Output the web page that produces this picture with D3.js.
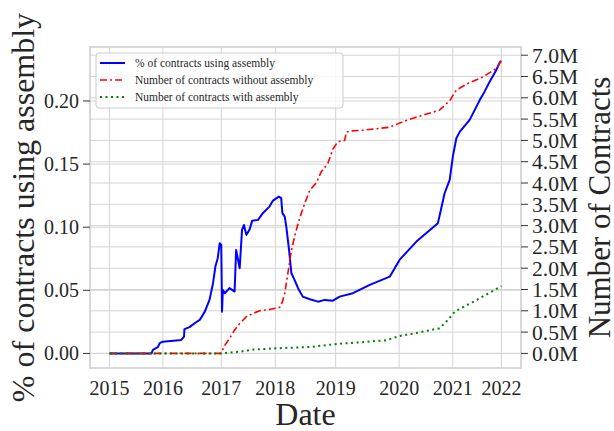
<!DOCTYPE html>
<html>
<head>
<meta charset="utf-8">
<script src="https://cdn.jsdelivr.net/npm/d3@7"></script>
<style>
  body { margin: 0; background: #fff; }
  text { font-family: "Liberation Serif", "DejaVu Serif", serif; fill: #262626; }
</style>
</head>
<body>
<svg width="614" height="431"></svg>
<script>
// x is a position along the sampled period (0 = first sample, 100 = last)
var yearTicks = [0, 13.6, 28.5, 42.3, 57.7, 73.9, 87.6, 100];
var yearLabels = ["2015", "2016", "2017", "2018", "2019", "2020", "2021", "2022"];

// share of contracts using assembly
var pctX = [0, 10.7, 11.05, 12.3, 12.8, 13.6, 18.3, 19.0, 19.1, 20.4, 21.7, 23.0, 24.3, 25.5, 26.4, 27.0, 27.6, 28.1, 28.5, 28.7, 28.9, 29.4, 30.6, 31.9, 32.3, 33.2, 33.8, 34.3, 34.9, 35.7, 36.4, 37.9, 39.1, 40.8, 41.7, 43.2, 43.8, 44.1, 44.7, 45.1, 45.8, 46.4, 47.2, 48.1, 49.3, 51.1, 53.2, 54.9, 57.0, 58.7, 62.1, 66.4, 71.5, 74.0, 78.3, 83.8, 85.5, 86.8, 87.6, 88.5, 89.4, 91.9, 94.5, 95.7, 97.0, 98.7, 99.7, 100];
var pctY = [0, 0, 0.0028, 0.0049, 0.0081, 0.0093, 0.0107, 0.0133, 0.0192, 0.0208, 0.0239, 0.0265, 0.0331, 0.0424, 0.0556, 0.0688, 0.0754, 0.0873, 0.0860, 0.0331, 0.0503, 0.0477, 0.0517, 0.0490, 0.0820, 0.0675, 0.0979, 0.1018, 0.0939, 0.0979, 0.1052, 0.1058, 0.1111, 0.1163, 0.1211, 0.1242, 0.1230, 0.1111, 0.1084, 0.1005, 0.0820, 0.0635, 0.0582, 0.0517, 0.0450, 0.0429, 0.0410, 0.0424, 0.0418, 0.0450, 0.0477, 0.0543, 0.0608, 0.0741, 0.0886, 0.1032, 0.1269, 0.1375, 0.1559, 0.1705, 0.1757, 0.1850, 0.2009, 0.2074, 0.2153, 0.2246, 0.2312, 0.2312];

// number of contracts without assembly (millions)
var withoutX = [0, 28.4, 29.4, 30.6, 31.9, 33.2, 34.9, 36.6, 38.3, 40.8, 43.4, 44.1, 44.7, 45.5, 46.4, 47.5, 48.5, 49.8, 51.1, 52.8, 54.0, 55.7, 57.0, 58.3, 60.0, 60.4, 61.3, 64.7, 71.5, 74.9, 77.4, 84.2, 86.8, 88.5, 91.1, 95.3, 98.7, 99.7, 100];
var withoutY = [0, 0, 0.19, 0.35, 0.55, 0.70, 0.86, 0.94, 1.00, 1.03, 1.08, 1.21, 1.41, 1.88, 2.42, 2.85, 3.17, 3.52, 3.83, 4.01, 4.26, 4.46, 4.80, 4.97, 5.00, 5.19, 5.22, 5.24, 5.31, 5.44, 5.52, 5.71, 5.93, 6.18, 6.32, 6.49, 6.69, 6.84, 6.85];

// number of contracts with assembly (millions)
var withX = [0, 28.4, 33.2, 36.6, 42.5, 51.1, 57.9, 63.8, 70.6, 74.0, 78.3, 84.2, 85.9, 88.1, 91.1, 93.6, 99.6, 100];
var withY = [0, 0, 0.04, 0.09, 0.12, 0.15, 0.22, 0.26, 0.31, 0.41, 0.48, 0.59, 0.74, 0.98, 1.13, 1.25, 1.56, 1.58];

var leftTicks = [0, 0.05, 0.10, 0.15, 0.20];
var rightTicks = [0, 0.5, 1, 1.5, 2, 2.5, 3, 3.5, 4, 4.5, 5, 5.5, 6, 6.5, 7];

var svg = d3.select("svg");
var L = 90, R = 521, T = 47, B = 368;

function pad(ext) { var d = ext[1] - ext[0]; return [ext[0] - 0.05 * d, ext[1] + 0.05 * d]; }

var x = d3.scaleLinear().domain(pad([0, 100])).range([L, R]);
var yL = d3.scaleLinear().domain(pad(d3.extent(pctY))).range([B, T]);
var yR = d3.scaleLinear().domain(pad([0, d3.max(withoutY.concat(withY))])).range([B, T]);

var grid = svg.append("g").attr("stroke", "#d4d4d4").attr("stroke-width", 1).attr("fill", "none");
grid.selectAll(".gx").data(yearTicks).enter().append("line")
	.attr("x1", d => x(d)).attr("x2", d => x(d)).attr("y1", T).attr("y2", B);
grid.selectAll(".gl").data(leftTicks).enter().append("line")
	.attr("x1", L).attr("x2", R).attr("y1", d => yL(d)).attr("y2", d => yL(d));
grid.selectAll(".gr").data(rightTicks).enter().append("line")
	.attr("x1", L).attr("x2", R).attr("y1", d => yR(d)).attr("y2", d => yR(d));

svg.append("clipPath").attr("id", "clip").append("rect")
	.attr("x", L).attr("y", T).attr("width", R - L).attr("height", B - T);
var plot = svg.append("g").attr("clip-path", "url(#clip)");

//lines
plot.append("path")
	.datum(d3.range(pctX.length))
	.attr("fill", "none").attr("stroke", "#0000ff").attr("stroke-width", 2)
	.attr("stroke-linejoin", "round")
	.attr("d", d3.line().x(i => x(pctX[i])).y(i => yL(pctY[i])));
plot.append("path")
	.datum(d3.range(withoutX.length))
	.attr("fill", "none").attr("stroke", "#ff0000").attr("stroke-width", 1.6)
	.attr("stroke-dasharray", "7,3,2,3")
	.attr("d", d3.line().x(i => x(withoutX[i])).y(i => yR(withoutY[i])));
plot.append("path")
	.datum(d3.range(withX.length))
	.attr("fill", "none").attr("stroke", "#008000").attr("stroke-width", 2)
	.attr("stroke-dasharray", "2,3.5")
	.attr("d", d3.line().x(i => x(withX[i])).y(i => yR(withY[i])));

// frame
svg.append("rect").attr("x", L).attr("y", T).attr("width", R - L).attr("height", B - T)
	.attr("fill", "none").attr("stroke", "#cccccc").attr("stroke-width", 1.5);

// left axis
var la = svg.append("g");
la.selectAll("line").data(leftTicks).enter().append("line")
	.attr("x1", L - 7).attr("x2", L).attr("y1", d => yL(d)).attr("y2", d => yL(d))
	.attr("stroke", "#333").attr("stroke-width", 1);
la.selectAll("text").data(leftTicks).enter().append("text")
	.attr("x", L - 11).attr("y", d => yL(d)).attr("dy", "0.35em")
	.attr("text-anchor", "end").attr("font-size", 20)
	.text(d => d3.format(".2f")(d));

// right axis
var ra = svg.append("g");
ra.selectAll("line").data(rightTicks).enter().append("line")
	.attr("x1", R).attr("x2", R + 7).attr("y1", d => yR(d)).attr("y2", d => yR(d))
	.attr("stroke", "#333").attr("stroke-width", 1);
ra.selectAll("text").data(rightTicks).enter().append("text")
	.attr("x", R + 11).attr("y", d => yR(d)).attr("dy", "0.35em")
	.attr("font-size", 21.5)
	.text(d => d3.format(".1f")(d) + "M");

// bottom axis labels
svg.append("g").selectAll("text").data(yearTicks).enter().append("text")
	.attr("x", d => x(d)).attr("y", 395)
	.attr("text-anchor", "middle").attr("font-size", 20)
	.text((d, i) => yearLabels[i]);

svg.append("text").attr("x", (L + R) / 2).attr("y", 425)
	.attr("text-anchor", "middle").attr("font-size", 32).text("Date");
svg.append("text").attr("transform", "translate(34," + (T + B) / 2 + ") rotate(-90)")
	.attr("text-anchor", "middle").attr("font-size", 32).text("% of contracts using assembly");
svg.append("text").attr("transform", "translate(610," + (T + B) / 2 + ") rotate(-90)")
	.attr("text-anchor", "middle").attr("font-size", 31).text("Number of Contracts");

// legend
var lg = svg.append("g");
lg.append("rect").attr("x", 96).attr("y", 53).attr("width", 247).attr("height", 55).attr("rx", 3)
	.attr("fill", "#fff").attr("fill-opacity", 0.8).attr("stroke", "#cccccc").attr("stroke-width", 1);
var items = [
	{ name: "% of contracts using assembly", color: "#0000ff", dash: null, w: 2 },
	{ name: "Number of contracts without assembly", color: "#ff0000", dash: "7,3,2,3", w: 1.6 },
	{ name: "Number of contracts with assembly", color: "#008000", dash: "2,3.5", w: 2 }
];
items.forEach(function(it, i) {
	var yy = 63 + i * 17;
	lg.append("line").attr("x1", 100).attr("x2", 125).attr("y1", yy).attr("y2", yy)
		.attr("stroke", it.color).attr("stroke-width", it.w).attr("stroke-dasharray", it.dash);
	lg.append("text").attr("x", 135).attr("y", yy).attr("dy", "0.35em")
		.attr("font-size", 11.5).text(it.name);
});
</script>
</body>
</html>
